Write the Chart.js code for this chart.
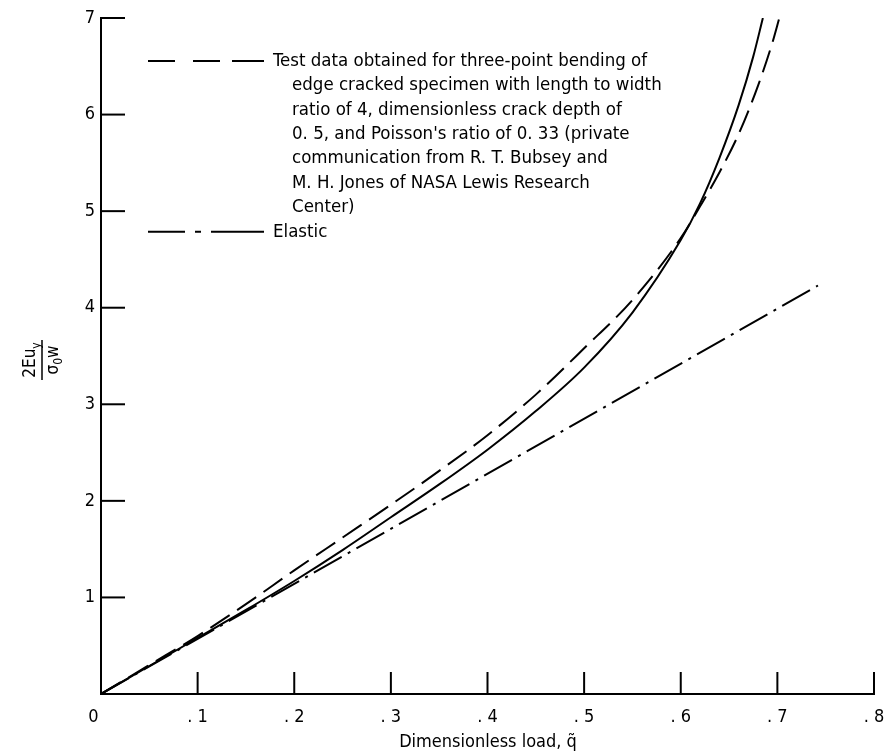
<!DOCTYPE html>
<html><head><meta charset="utf-8">
<script src="https://cdn.jsdelivr.net/npm/chart.js@4/dist/chart.umd.min.js"></script>
<style>html,body{margin:0;padding:0;background:#fff;} canvas{display:block;}</style>
</head><body>
<canvas id="c" width="889" height="755"></canvas>
<script>
// ---- data ----
const xTickValues = [0, 0.1, 0.2, 0.3, 0.4, 0.5, 0.6, 0.7, 0.8];
const xTickLabels = ['0   ', '. 1', '. 2', '. 3', '. 4', '. 5', '. 6', '. 7', '. 8'];
const yTickValues = [0, 1, 2, 3, 4, 5, 6, 7];
const yTickLabels = ['', '1', '2', '3', '4', '5', '6', '7'];

const solidX = [0, 0.05, 0.1, 0.15, 0.2, 0.25, 0.3, 0.35, 0.4, 0.45, 0.5, 0.55, 0.6, 0.62, 0.64, 0.66, 0.675, 0.685];
const solidY = [0, 0.29, 0.58, 0.87, 1.17, 1.49, 1.83, 2.17, 2.53, 2.93, 3.38, 3.95, 4.70, 5.08, 5.55, 6.10, 6.60, 7.0];

const dashedX = [0, 0.05, 0.1, 0.15, 0.2, 0.25, 0.3, 0.35, 0.4, 0.45, 0.5, 0.55, 0.6, 0.62, 0.64, 0.66, 0.68, 0.695, 0.702];
const dashedY = [0, 0.30, 0.60, 0.93, 1.28, 1.62, 1.96, 2.31, 2.68, 3.10, 3.58, 4.08, 4.72, 5.05, 5.40, 5.80, 6.30, 6.75, 7.0];

const elasticX = [0, 0.742];
const elasticY = [0, 4.23];

const legendTestLines = [
  'Test data obtained for three-point bending of',
  'edge cracked specimen with length to width',
  'ratio of 4, dimensionless crack depth of',
  "0. 5, and Poisson's ratio of 0. 33 (private",
  'communication from R. T. Bubsey and',
  'M. H. Jones of NASA Lewis Research',
  'Center)'
];
const legendElastic = 'Elastic';
const xTitle = 'Dimensionless load, q\u0303';

// ---- helpers ----
const FONT = '"DejaVu Sans Condensed", "Liberation Sans Narrow", "DejaVu Sans", sans-serif';
const pts = (xs, ys) => xs.map((x, i) => ({x: x, y: ys[i]}));
const DASH = [23, 9];
const DASHDOT = [32, 7, 3, 7];

const decor = {
  id: 'decor',
  afterDraw(chart) {
    const ctx = chart.ctx;
    const xs = chart.scales.x, ys = chart.scales.y;
    const left = chart.chartArea.left, bottom = chart.chartArea.bottom;
    ctx.save();
    ctx.strokeStyle = '#000';
    ctx.fillStyle = '#000';
    ctx.lineWidth = 2;
    ctx.setLineDash([]);
    // inner tick marks
    xTickValues.forEach(v => {
      if (v === 0) return;
      const px = xs.getPixelForValue(v);
      ctx.beginPath(); ctx.moveTo(px, bottom); ctx.lineTo(px, bottom - 22); ctx.stroke();
    });
    yTickValues.forEach(v => {
      if (v === 0) return;
      const py = ys.getPixelForValue(v);
      ctx.beginPath(); ctx.moveTo(left, py); ctx.lineTo(left + 24, py); ctx.stroke();
    });
    // x title
    ctx.font = '18px ' + FONT;
    ctx.textAlign = 'center';
    ctx.textBaseline = 'middle';
    ctx.fillText(xTitle, 488, 742);
    // y title (rotated fraction)
    ctx.save();
    ctx.translate(42, 360);
    ctx.rotate(-Math.PI / 2);
    ctx.textBaseline = 'alphabetic';
    ctx.textAlign = 'left';
    const big = '17px ' + FONT, small = '12px ' + FONT;
    ctx.font = big;
    const numW = ctx.measureText('2Eu').width;
    ctx.font = small;
    const subW = ctx.measureText('y').width;
    const nStart = -(numW + subW) / 2;
    ctx.font = big;
    ctx.fillText('2Eu', nStart, -7);
    ctx.font = small;
    ctx.fillText('y', nStart + numW, -2);
    ctx.lineWidth = 1.5;
    ctx.beginPath(); ctx.moveTo(-20, 0); ctx.lineTo(20, 0); ctx.stroke();
    ctx.font = big;
    const sW = ctx.measureText('\u03c3').width;
    const wW = ctx.measureText('w').width;
    ctx.font = small;
    const zW = ctx.measureText('0').width;
    const dStart = -(sW + zW + wW) / 2;
    ctx.font = big;
    ctx.fillText('\u03c3', dStart, 16);
    ctx.font = small;
    ctx.fillText('0', dStart + sW, 20);
    ctx.font = big;
    ctx.fillText('w', dStart + sW + zW, 16);
    ctx.restore();
    // legend
    ctx.lineWidth = 2;
    ctx.font = '18.5px ' + FONT;
    ctx.textAlign = 'left';
    ctx.textBaseline = 'middle';
    const ly0 = 61, lstep = 24.4;
    ctx.setLineDash([27, 18, 27, 12, 200]);
    ctx.beginPath(); ctx.moveTo(148, ly0); ctx.lineTo(264, ly0); ctx.stroke();
    legendTestLines.forEach((t, i) => {
      ctx.fillText(t, i === 0 ? 273 : 292, ly0 + i * lstep);
    });
    const ey = ly0 + legendTestLines.length * lstep;
    ctx.setLineDash([37, 10, 6, 10, 200]);
    ctx.beginPath(); ctx.moveTo(148, ey); ctx.lineTo(264, ey); ctx.stroke();
    ctx.fillText(legendElastic, 273, ey);
    ctx.restore();
  }
};

new Chart(document.getElementById('c'), {
  type: 'scatter',
  data: {
    datasets: [
      {label: 'Test data', data: pts(dashedX, dashedY), showLine: true, borderColor: '#000', borderWidth: 2, borderDash: DASH, pointRadius: 0, cubicInterpolationMode: 'monotone', fill: false},
      {label: 'Theory', data: pts(solidX, solidY), showLine: true, borderColor: '#000', borderWidth: 2, pointRadius: 0, cubicInterpolationMode: 'monotone', fill: false},
      {label: 'Elastic', data: pts(elasticX, elasticY), showLine: true, borderColor: '#000', borderWidth: 2, borderDash: DASHDOT, pointRadius: 0, fill: false}
    ]
  },
  options: {
    responsive: false,
    animation: false,
    devicePixelRatio: 1,
    layout: {padding: {left: 0, right: 15, top: 18, bottom: 0}},
    plugins: {legend: {display: false}, tooltip: {enabled: false}},
    scales: {
      x: {
        type: 'linear', min: 0, max: 0.8,
        afterFit: s => { s.height = 61; s.paddingLeft = 0; s.paddingRight = 0; },
        afterBuildTicks: s => { s.ticks = xTickValues.map(v => ({value: v})); },
        ticks: {
          callback: (v) => { const i = xTickValues.findIndex(t => Math.abs(t - v) < 1e-9); return i >= 0 ? xTickLabels[i] : ''; },
          color: '#000', font: {family: FONT, size: 18}, padding: 13, maxRotation: 0, autoSkip: false
        },
        grid: {display: true, drawOnChartArea: false, drawTicks: false, color: 'rgba(0,0,0,0)'},
        border: {display: true, color: '#000', width: 2}
      },
      y: {
        type: 'linear', min: 0, max: 7,
        afterFit: s => { s.width = 101; s.paddingTop = 0; s.paddingBottom = 0; },
        afterBuildTicks: s => { s.ticks = yTickValues.map(v => ({value: v})); },
        ticks: {
          callback: (v) => { const i = yTickValues.indexOf(v); return i >= 0 ? yTickLabels[i] : ''; },
          color: '#000', font: {family: FONT, size: 18}, padding: 6, autoSkip: false
        },
        grid: {display: true, drawOnChartArea: false, drawTicks: false, color: 'rgba(0,0,0,0)'},
        border: {display: true, color: '#000', width: 2}
      }
    }
  },
  plugins: [decor]
});
</script>
</body></html>
